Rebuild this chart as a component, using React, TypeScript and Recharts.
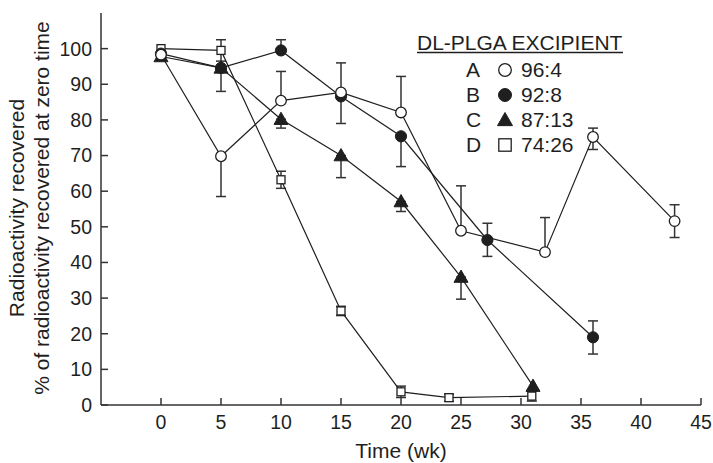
import React from 'react';
import {
  ScatterChart,
  Scatter,
  XAxis,
  YAxis,
  ErrorBar,
} from 'recharts';

// A 96:4
const weeksA = [0, 5, 10, 15, 20, 25, 32, 36, 42.8];
const valuesA = [98.3, 69.8, 85.4, 87.7, 82.1, 48.9, 42.9, 75.2, 51.6];
const errorsA = [null, [11.3, 0], [0, 8.2], [0, 8.3], [0, 10.1], [0, 12.6], [0, 9.7], [3.5, 2.5], [4.6, 4.6]];

// B 92:8
const weeksB = [0, 5, 10, 15, 20, 27.2, 36];
const valuesB = [98.6, 94.6, 99.5, 86.6, 75.4, 46.3, 19];
const errorsB = [null, [6.6, 0], [0, 3], [7.6, 0], [8.5, 0], [4.6, 4.7], [4.7, 4.6]];

// C 87:13
const weeksC = [0, 5, 10, 15, 20, 25, 31];
const valuesC = [97.8, 94.6, 80.2, 70, 57.1, 35.9, 5.3];
const errorsC = [null, null, [2.5, 0], [6.2, 0], [2.8, 0], [6.2, 0], null];

// D 74:26
const weeksD = [0, 5, 10, 15, 20, 24, 30.9];
const valuesD = [100, 99.5, 63.2, 26.4, 3.7, 2.05, 2.5];
const errorsD = [null, [3, 3], [2.4, 2.4], [1.3, 1.3], [1.6, 1.6], [1, 1], [1.4, 1.4]];

const seriesLetters = ['A', 'B', 'C', 'D'];
const seriesNames = ['96:4', '92:8', '87:13', '74:26'];
const legendTitle = 'DL-PLGA EXCIPIENT';

const xTicks = [0, 5, 10, 15, 20, 25, 30, 35, 40, 45];
const yTicks = [0, 10, 20, 30, 40, 50, 60, 70, 80, 90, 100];

const ink = '#1f1f1f';
const font = '"Liberation Sans", Arial, Helvetica, sans-serif';

const build = (t: number[], v: number[], e: any[]) =>
  t.map((x, i) => ({ t: x, v: v[i], err: e[i] }));

const dataA = build(weeksA, valuesA, errorsA);
const dataB = build(weeksB, valuesB, errorsB);
const dataC = build(weeksC, valuesC, errorsC);
const dataD = build(weeksD, valuesD, errorsD);

const OpenCircle = (p: any) => (
  <circle cx={p.cx} cy={p.cy} r={p.r ?? 5.3} fill="#fff" stroke={ink} strokeWidth={1.3} />
);
const FilledCircle = (p: any) => (
  <circle cx={p.cx} cy={p.cy} r={p.r ?? 5.6} fill={ink} stroke={ink} strokeWidth={1} />
);
const Triangle = (p: any) => {
  const s = p.s ?? 7;
  return (
    <polygon
      points={`${p.cx},${p.cy - s} ${p.cx - s},${p.cy + s * 0.75} ${p.cx + s},${p.cy + s * 0.75}`}
      fill={ink}
      stroke={ink}
      strokeWidth={1}
    />
  );
};
const Square = (p: any) => {
  const s = p.s ?? 4;
  return (
    <rect x={p.cx - s} y={p.cy - s} width={s * 2} height={s * 2} fill="#fff" stroke={ink} strokeWidth={1.3} />
  );
};

const shapes = [OpenCircle, FilledCircle, Triangle, Square];
const legendSizes = [{ r: 6.3 }, { r: 6.5 }, { s: 7.5 }, { s: 6.2 }];

const YLabel = () => {
  const cy = 208;
  return (
    <g fontFamily={font} fontSize={21} fill={ink}>
      <text x={24} y={cy} textAnchor="middle" transform={`rotate(-90, 24, ${cy})`}>
        Radioactivity recovered
      </text>
      <text x={49} y={cy} textAnchor="middle" transform={`rotate(-90, 49, ${cy})`}>
        % of radioactivity recovered at zero time
      </text>
    </g>
  );
};

const XLabel = (props: any) => {
  const vb = props.viewBox || { x: 101, y: 405, width: 600 };
  return (
    <text x={vb.x + vb.width / 2} y={vb.y + 53} textAnchor="middle" fontFamily={font} fontSize={21} fill={ink}>
      Time (wk)
    </text>
  );
};

const Legend = () => (
  <svg width={713} height={463} style={{ position: 'absolute', left: 0, top: 0, pointerEvents: 'none' }}>
    <g fontFamily={font} fontSize={21} fill={ink}>
      <text x={417} y={50}>{legendTitle}</text>
      <line x1={417} x2={623} y1={52.5} y2={52.5} stroke={ink} strokeWidth={1.3} />
      {seriesLetters.map((l, i) => {
        const base = 77 + i * 25;
        const Shape = shapes[i];
        return (
          <g key={l}>
            <text x={466} y={base}>{l}</text>
            <Shape cx={505} cy={base - 7} {...legendSizes[i]} />
            <text x={521} y={base}>{seriesNames[i]}</text>
          </g>
        );
      })}
    </g>
  </svg>
);

const tickStyle = { fill: ink, fontSize: 19.5, fontFamily: font };
const axisStroke = { stroke: '#333', strokeWidth: 1.5 };

export default function App() {
  const all = [dataA, dataB, dataC, dataD];
  // drawing order: D first, then B, C, and A on top
  const order = [3, 1, 2, 0];
  return (
    <div style={{ position: 'absolute', left: 0, top: 0, width: 713, height: 463, background: '#fff' }}>
      <ScatterChart width={713} height={463} margin={{ top: 13, right: 12, left: 0, bottom: 0 }}>
        <XAxis
          type="number"
          dataKey="t"
          domain={[-5, 45]}
          ticks={xTicks}
          allowDataOverflow
          height={58}
          tick={tickStyle}
          tickSize={-7}
          tickMargin={17}
          axisLine={axisStroke}
          tickLine={axisStroke}
          label={{ content: XLabel }}
        />
        <XAxis
          xAxisId="top"
          orientation="top"
          type="number"
          domain={[-5, 45]}
          ticks={xTicks}
          allowDataOverflow
          height={0}
          tick={false}
          tickSize={-7}
          axisLine={axisStroke}
          tickLine={axisStroke}
        />
        <YAxis
          type="number"
          dataKey="v"
          domain={[0, 110]}
          ticks={yTicks}
          allowDataOverflow
          width={101}
          tick={tickStyle}
          tickSize={-7}
          tickMargin={16}
          axisLine={axisStroke}
          tickLine={axisStroke}
          label={{ content: YLabel }}
        />
        <YAxis
          yAxisId="right"
          orientation="right"
          type="number"
          domain={[0, 110]}
          ticks={yTicks}
          allowDataOverflow
          width={0}
          tick={false}
          tickSize={-7}
          axisLine={axisStroke}
          tickLine={axisStroke}
        />
        {order.map((i) => (
          <Scatter
            key={seriesNames[i]}
            name={seriesNames[i]}
            data={all[i]}
            dataKey="v"
            shape={shapes[i]}
            line={{ stroke: ink, strokeWidth: 1.2 }}
            lineType="joint"
            isAnimationActive={false}
          >
            <ErrorBar dataKey="err" direction="y" width={5} stroke="#333" strokeWidth={1.5} />
          </Scatter>
        ))}
      </ScatterChart>
      <Legend />
    </div>
  );
}
